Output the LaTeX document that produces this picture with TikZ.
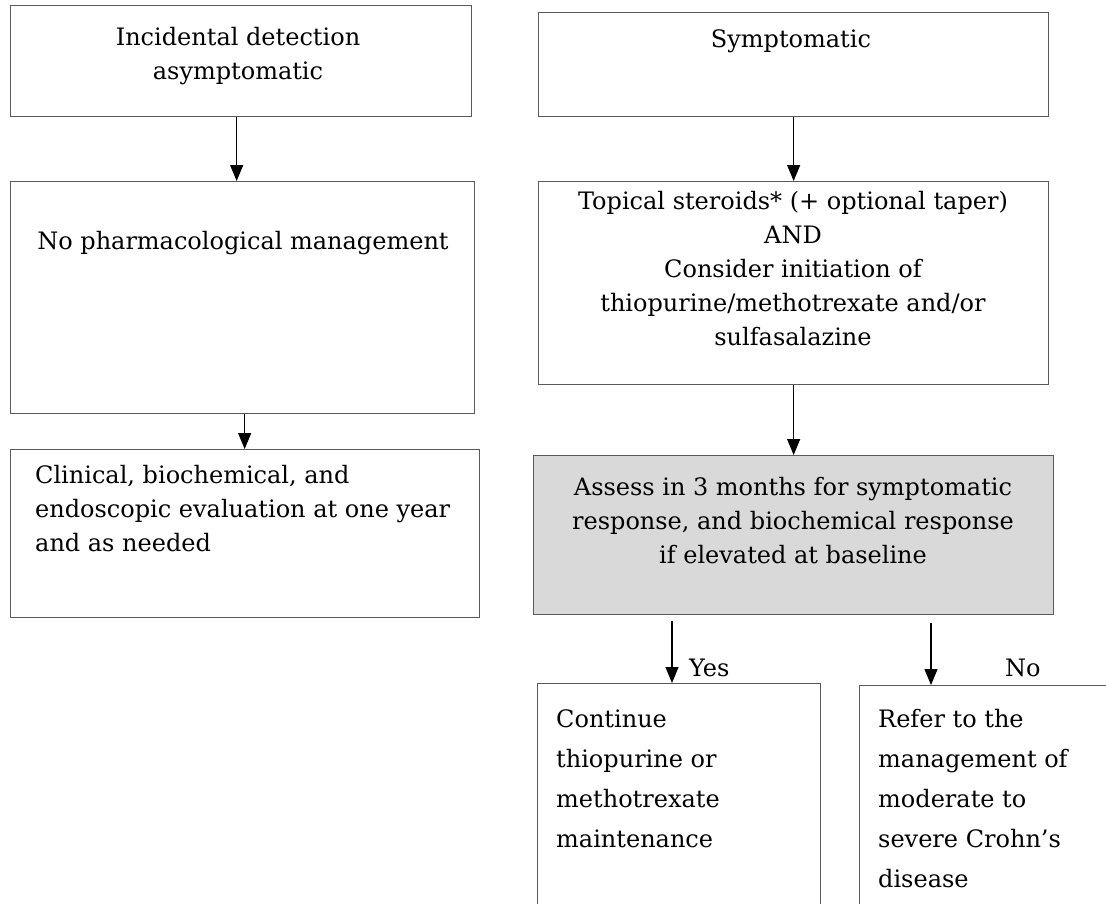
\documentclass[tikz,border=0pt]{standalone}
\usepackage{fontspec}
\setmainfont{DejaVu Serif}
\usetikzlibrary{arrows.meta}
\definecolor{boxline}{RGB}{90,90,90}
\definecolor{boxgray}{RGB}{217,217,217}
\tikzset{
  hop/.style={draw=boxline, line width=1.3pt, inner sep=0pt, anchor=north west},
  chu/.style={inner sep=0pt, font=\fontsize{24}{34}\selectfont},
  chubig/.style={inner sep=0pt, font=\fontsize{24}{40}\selectfont, align=left, anchor=north west},
  pil/.style={line width=1.2pt, -{Triangle[width=13pt,length=16pt]}}
}
\begin{document}
\begin{tikzpicture}[x=1pt,y=-1pt]
\useasboundingbox (0,0) rectangle (1106,903);
\clip (0,0) rectangle (1106,903);
% cot trai
\node[hop, minimum width=461pt, minimum height=111pt] (a) at (10,5) {};
\node[hop, minimum width=464pt, minimum height=232pt] (c) at (10,181) {};
\node[hop, minimum width=469pt, minimum height=168pt] (e) at (10,449) {};
\node[chu, align=center, anchor=north] (ta) at (238,27) {Incidental detection\\asymptomatic};
\node[chu, align=center, anchor=north] (tc) at (243,231) {No pharmacological management};
\node[chu, align=left, anchor=north west] (te) at (35,465) {Clinical, biochemical, and\\endoscopic evaluation at one year\\and as needed};
% cot phai
\node[hop, minimum width=510pt, minimum height=104pt] (b) at (538,12) {};
\node[hop, minimum width=510pt, minimum height=203pt] (d) at (538,181) {};
\node[hop, fill=boxgray, minimum width=520pt, minimum height=159pt] (f) at (533,455) {};
\node[chu, align=center, anchor=north] (tb) at (791,29) {Symptomatic};
\node[chu, align=center, anchor=north] (td) at (793,191) {Topical steroids* (+ optional taper)\\AND\\Consider initiation of\\thiopurine/methotrexate and/or\\sulfasalazine};
\node[chu, align=center, anchor=north] (tf) at (793,477) {Assess in 3 months for symptomatic\\response, and biochemical response\\if elevated at baseline};
% hai nhanh duoi
\node[hop, minimum width=283pt, minimum height=300pt] (g) at (537,683) {};
\node[hop, minimum width=300pt, minimum height=300pt] (h) at (859,685) {};
\node[chubig] (tg) at (556,709) {Continue\\thiopurine or\\methotrexate\\maintenance};
\node[chubig] (th) at (878,709) {Refer to the\\management of\\moderate to\\severe Crohn’s\\disease};
\node[chu, anchor=west] (yes) at (689,668) {Yes};
\node[chu, anchor=west] (no) at (1005,668) {No};
% mui ten
\coordinate (agoc) at ([xshift=-4.5pt]a.south);
\coordinate (cgoc) at ([xshift=2pt]c.south);
\coordinate (yesgoc) at (672,621);
\coordinate (nogoc) at (931,623);
\draw[pil] (agoc) -- (agoc |- c.north);
\draw[pil] (b.south) -- (b.south |- d.north);
\draw[pil] (cgoc) -- (cgoc |- e.north);
\draw[pil] (d.south) -- (d.south |- f.north);
\draw[pil] (yesgoc) -- (yesgoc |- g.north);
\draw[pil] (nogoc) -- (nogoc |- h.north);
\end{tikzpicture}
\end{document}
